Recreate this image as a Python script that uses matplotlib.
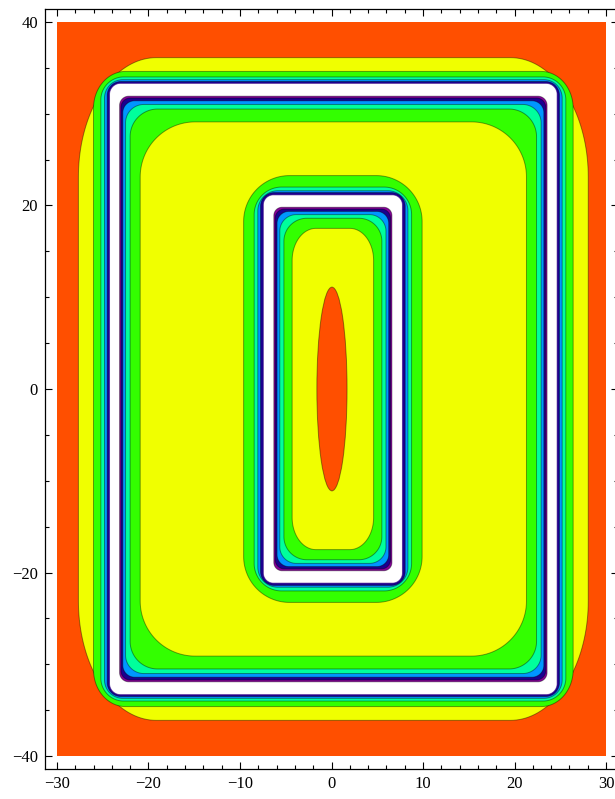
import numpy as np
import matplotlib.pyplot as plt
from matplotlib.patches import Polygon, Rectangle, Ellipse
from matplotlib.ticker import MultipleLocator

# plot range of the contour field
x_range = [-30, 30]
y_range = [-40, 40]

# band colours (Hue colour function, low -> high, white = clipped peak)
RED = '#ff4f00'
YEL = '#f0ff00'
GRN = '#33ff00'
TEAL = '#00ff9c'
BLUE = '#0096ff'
NAVY = '#1c0090'
PURP = '#86009a'
WHITE = '#ffffff'

# outer ring: boundaries, outermost first
outer_cx = 0.2
outer_hw = [27.85, 26.2, 25.4, 25.0, 24.7, 24.45, 23.35, 23.2, 23.0, 22.7, 22.2, 21.1]
outer_hh = [36.1, 34.6, 34.0, 33.7, 33.5, 33.3, 31.9, 31.7, 31.4, 31.0, 30.5, 29.1]
outer_rx = [8.5, 3.5, 2.5, 2.0, 1.5, 1.2, 1.0, 1.0, 1.3, 2.0, 3.0, 6.0]
outer_ry = [13.0, 4.0, 2.5, 2.0, 1.5, 1.2, 1.0, 1.0, 1.3, 2.0, 3.0, 6.0]
outer_col = [YEL, GRN, TEAL, BLUE, NAVY, WHITE, PURP, NAVY, BLUE, TEAL, GRN, YEL]

# inner ring
inner_cx = 0.15
inner_hw = [9.75, 8.6, 8.2, 7.9, 7.6, 6.45, 6.3, 6.1, 5.8, 5.35, 4.45]
inner_hh = [23.25, 22.0, 21.6, 21.4, 21.15, 19.8, 19.6, 19.35, 19.0, 18.6, 17.5]
inner_rx = [5.0, 3.0, 2.2, 1.5, 1.1, 0.9, 1.0, 1.3, 1.8, 2.5, 2.6]
inner_ry = [5.0, 3.0, 2.2, 1.5, 1.1, 0.9, 1.0, 1.3, 1.8, 2.5, 3.5]
inner_col = [GRN, TEAL, BLUE, NAVY, WHITE, PURP, NAVY, BLUE, TEAL, GRN, YEL]

# central low
core_x, core_y = 0.05, 0.0
core_hw, core_hh = 1.65, 11.1


def rounded_rect(cx, cy, a, b, rx, ry, n=40):
    t = np.linspace(0, np.pi / 2, n)
    pts = []
    for k, (sx, sy) in enumerate([(1, 1), (-1, 1), (-1, -1), (1, -1)]):
        tt = t + k * np.pi / 2
        ccx = cx + sx * (a - rx)
        ccy = cy + sy * (b - ry)
        pts.append(np.column_stack([ccx + rx * np.cos(tt), ccy + ry * np.sin(tt)]))
    return np.vstack(pts)


fig = plt.figure(figsize=(6.15, 7.99), dpi=100)
ax = fig.add_axes([45 / 615, 30 / 799, 573 / 615, 760 / 799])

ax.add_patch(Rectangle((x_range[0], y_range[0]), x_range[1] - x_range[0],
                       y_range[1] - y_range[0], facecolor=RED, edgecolor='none'))


def draw_ring(cx, hw, hh, rx, ry, cols):
    for a, b, r1, r2, c in zip(hw, hh, rx, ry, cols):
        ec = (0, 0, 0, 0.4) if c != WHITE else (0.2, 0, 0.5, 0.6)
        ax.add_patch(Polygon(rounded_rect(cx, 0, a, b, r1, r2), closed=True,
                             facecolor=c, edgecolor=ec, linewidth=0.7))


draw_ring(outer_cx, outer_hw, outer_hh, outer_rx, outer_ry, outer_col)
draw_ring(inner_cx, inner_hw, inner_hh, inner_rx, inner_ry, inner_col)
ax.add_patch(Ellipse((core_x, core_y), 2 * core_hw, 2 * core_hh,
                     facecolor=RED, edgecolor=(0, 0, 0, 0.4), linewidth=0.7))

ax.set_xlim(-31.3, 31.3)
ax.set_ylim(-41.4, 41.4)
ax.set_aspect('auto')

ax.xaxis.set_major_locator(MultipleLocator(10))
ax.xaxis.set_minor_locator(MultipleLocator(2))
ax.yaxis.set_major_locator(MultipleLocator(20))
ax.yaxis.set_minor_locator(MultipleLocator(5))
ax.tick_params(which='both', direction='in', top=True, right=True, labelsize=12,
               width=0.8, colors='black')
ax.tick_params(which='major', length=5, pad=5)
ax.tick_params(which='minor', length=3)
for lab in ax.get_xticklabels() + ax.get_yticklabels():
    lab.set_family('Liberation Serif')
for s in ax.spines.values():
    s.set_linewidth(0.9)

fig.savefig('out.png', dpi=100)
